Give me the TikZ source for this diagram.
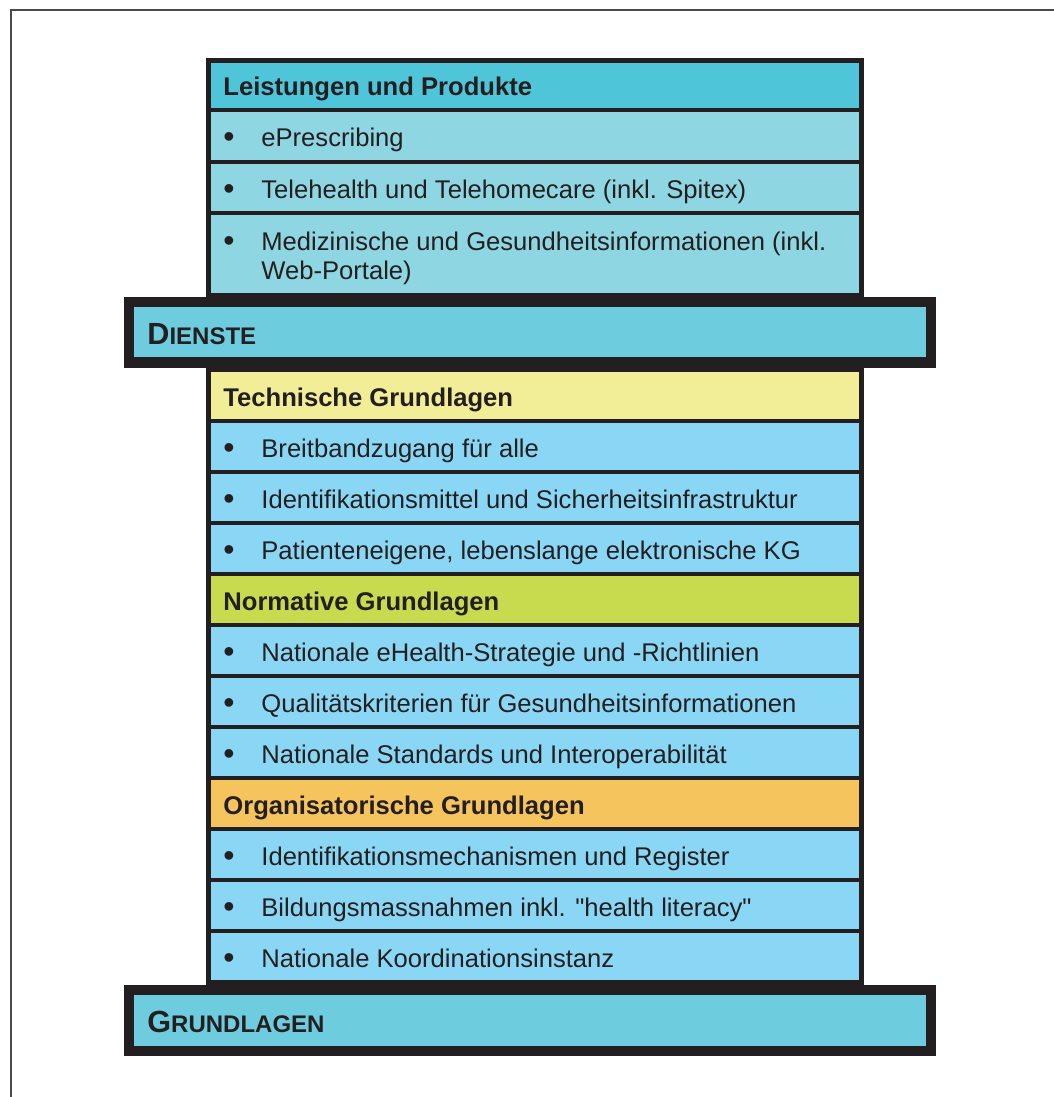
\documentclass[tikz,border=0pt]{standalone}
\usepackage{fontspec}
\setmainfont{Liberation Sans}[Ligatures=TeXOff]
\definecolor{ink}{HTML}{231F20}
\definecolor{frameline}{HTML}{4A4A4A}
\definecolor{tealhead}{HTML}{4EC5D8}
\definecolor{tealrow}{HTML}{8FD6E3}
\definecolor{barfill}{HTML}{6DCDDF}
\definecolor{skyrow}{HTML}{8AD7F5}
\definecolor{yellowhead}{HTML}{F2EE97}
\definecolor{limehead}{HTML}{C8DA4E}
\definecolor{orangehead}{HTML}{F5C45D}
\tikzset{
  every node/.style={font=\fontsize{12.8}{14.5}\selectfont, text=ink, inner sep=0pt},
  headtext/.style={anchor=base west, font=\fontsize{12.8}{14.5}\selectfont\bfseries},
  itemtext/.style={anchor=base west},
  bulletmark/.style={anchor=base, font=\fontsize{16}{16}\selectfont},
  bartext/.style={anchor=base west, font=\bfseries},
  blackbox/.style={fill=ink},
}
\newcommand{\barcaps}[2]{{\fontsize{15.3}{16}\selectfont #1}{\fontsize{12}{14}\selectfont #2}}

\begin{document}
\begin{tikzpicture}[x=0.5pt, y=-0.5pt]
\useasboundingbox (0,0) rectangle (1054,1097);
\fill[white] (0,0) rectangle (1054,1097);
\draw[frameline, line width=0.8pt] (11,1097) -- (11,10) -- (1054,10);
% column and the two bars
\fill[blackbox] (206,58) rectangle (864,990);
\fill[blackbox] (124,297) rectangle (936,368);
\fill[barfill] (134,307) rectangle (926,357);
\fill[blackbox] (124,985) rectangle (936,1056);
\fill[barfill] (134,995) rectangle (926,1046);
% Dienste cells
\fill[tealhead] (211,63) rectangle (859,108);
\fill[tealrow] (211,112) rectangle (859,160);
\fill[tealrow] (211,164) rectangle (859,211);
\fill[tealrow] (211,215) rectangle (859,293);
% Grundlagen cells
\fill[yellowhead] (211,372) rectangle (859,419);
\fill[skyrow] (211,423) rectangle (859,470);
\fill[skyrow] (211,474) rectangle (859,521);
\fill[skyrow] (211,525) rectangle (859,572);
\fill[limehead] (211,576) rectangle (859,623);
\fill[skyrow] (211,627) rectangle (859,674);
\fill[skyrow] (211,678) rectangle (859,725);
\fill[skyrow] (211,729) rectangle (859,776);
\fill[orangehead] (211,780) rectangle (859,827);
\fill[skyrow] (211,831) rectangle (859,878);
\fill[skyrow] (211,882) rectangle (859,929);
\fill[skyrow] (211,933) rectangle (859,980);
% texts
\node[headtext] (lp) at (223,96) {Leistungen und Produkte};
\node[bulletmark] (b1) at (229,148) {\textbullet}; \node[itemtext] (i1) at (261,147) {ePrescribing};
\node[bulletmark] (b2) at (229,199) {\textbullet}; \node[itemtext] (i2) at (261,198) {Telehealth und Telehomecare (inkl. Spitex)};
\node[bulletmark] (b3) at (229,251) {\textbullet}; \node[itemtext] (i3) at (261,250) {Medizinische und Gesundheitsinformationen (inkl.};
\node[itemtext] (i3b) at (261,279) {Web-Portale)};
\node[bartext] (dienste) at (147,344) {\barcaps{D}{IENSTE}};
\node[headtext] (tg) at (223,406) {Technische Grundlagen};
\node[bulletmark] (b4) at (229,458) {\textbullet}; \node[itemtext] (i4) at (261,457) {Breitbandzugang für alle};
\node[bulletmark] (b5) at (229,509) {\textbullet}; \node[itemtext] (i5) at (261,508) {Identifikationsmittel und Sicherheitsinfrastruktur};
\node[bulletmark] (b6) at (229,560) {\textbullet}; \node[itemtext] (i6) at (261,559) {Patienteneigene, lebenslange elektronische KG};
\node[headtext] (ng) at (223,610) {Normative Grundlagen};
\node[bulletmark] (b7) at (229,662) {\textbullet}; \node[itemtext] (i7) at (261,661) {Nationale eHealth-Strategie und -Richtlinien};
\node[bulletmark] (b8) at (229,713) {\textbullet}; \node[itemtext] (i8) at (261,712) {Qualitätskriterien für Gesundheitsinformationen};
\node[bulletmark] (b9) at (229,764) {\textbullet}; \node[itemtext] (i9) at (261,763) {Nationale Standards und Interoperabilität};
\node[headtext] (og) at (223,814) {Organisatorische Grundlagen};
\node[bulletmark] (b10) at (229,866) {\textbullet}; \node[itemtext] (i10) at (261,865) {Identifikationsmechanismen und Register};
\node[bulletmark] (b11) at (229,917) {\textbullet}; \node[itemtext] (i11) at (261,916) {Bildungsmassnahmen inkl. "health literacy"};
\node[bulletmark] (b12) at (229,968) {\textbullet}; \node[itemtext] (i12) at (261,967) {Nationale Koordinationsinstanz};
\node[bartext] (grundlagen) at (147,1032) {\barcaps{G}{RUNDLAGEN}};
\end{tikzpicture}
\end{document}
